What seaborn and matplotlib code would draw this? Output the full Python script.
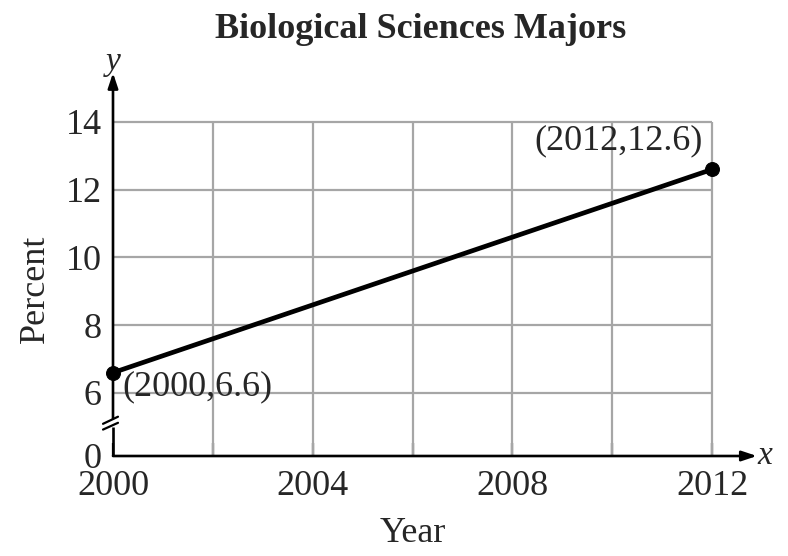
import matplotlib
matplotlib.use("Agg")
import matplotlib.pyplot as plt
import seaborn as sns
import pandas as pd

years = [2000, 2012]
percent = [6.6, 12.6]
point_labels = ["(2000,6.6)", "(2012,12.6)"]
x_ticks = [2000, 2002, 2004, 2006, 2008, 2010, 2012]
x_tick_labels = ["2000", "", "2004", "", "2008", "", "2012"]
y_grid = [6, 8, 10, 12, 14]
y_tick_labels = ["0", "6", "8", "10", "12", "14"]

sns.set_style("white")
plt.rcParams["font.family"] = ["Liberation Serif", "DejaVu Serif"]
plt.rcParams["mathtext.fontset"] = "custom"
plt.rcParams["mathtext.it"] = "Liberation Serif:italic"

fig = plt.figure(figsize=(7.88, 5.56), dpi=100)
ax = fig.add_axes([113 / 788, 100 / 556, 599 / 788, 334 / 556])

Y0 = 4.14  # position of the "0" after the axis break
ax.set_xlim(2000, 2012)
ax.set_ylim(Y0, 14)

# grid
ax.vlines(x_ticks[1:], Y0, 14, color="#a6a6a6", lw=1.6, zorder=1, clip_on=False)
ax.hlines(y_grid, 2000, 2012, color="#a6a6a6", lw=1.6, zorder=1, clip_on=False)

df = pd.DataFrame({"Year": years, "Percent": percent})
sns.lineplot(data=df, x="Year", y="Percent", ax=ax, color="black", lw=3.4,
             marker="o", markersize=10, markeredgecolor="black", zorder=5,
             clip_on=False)

for sp in ax.spines.values():
    sp.set_visible(False)

# axes with arrows
akw = dict(arrowstyle="-|>,head_length=0.9,head_width=0.3", color="black", lw=1.9,
           shrinkA=0, shrinkB=0)
ax.annotate("", xy=(2012.9, Y0), xytext=(2000, Y0), xycoords="data",
            arrowprops=akw, annotation_clip=False, zorder=6)
ax.annotate("", xy=(2000, 15.45), xytext=(2000, 5.24), xycoords="data",
            arrowprops=akw, annotation_clip=False, zorder=6)
ax.plot([2000, 2000], [Y0, 4.99], color="black", lw=1.9, clip_on=False, zorder=6,
        solid_capstyle="butt")
# break marks
ax.plot([1999.80, 2000.10], [5.09, 5.30], color="black", lw=1.6, clip_on=False, zorder=6)
ax.plot([1999.80, 2000.10], [4.92, 5.12], color="black", lw=1.6, clip_on=False, zorder=6)

ax.text(2013.08, Y0, "$x$", fontsize=24, va="center", ha="center")
ax.text(2000, 15.72, "$y$", fontsize=24, va="center", ha="center")

ax.set_xticks(x_ticks)
ax.set_xticklabels(x_tick_labels)
ax.set_yticks([Y0] + y_grid)
ax.set_yticklabels(y_tick_labels)
ax.tick_params(axis="x", direction="in", length=9.5, width=1.6, color="black",
               labelsize=26, pad=10, bottom=True)
ax.tick_params(axis="y", length=0, labelsize=26, pad=8, left=True)

ax.set_xlabel("Year", fontsize=26, labelpad=10)
ax.set_ylabel("Percent", fontsize=26, labelpad=10)

ax.text(2000.18, 6.18, point_labels[0], fontsize=26, ha="left", va="center", zorder=7)
ax.text(2011.82, 13.45, point_labels[1], fontsize=26, ha="right", va="center", zorder=7)

fig.text(421 / 788, 1 - 30 / 556, "Biological Sciences Majors", fontsize=26,
         fontweight="bold", ha="center", va="center")

fig.savefig("out.png", dpi=100)
